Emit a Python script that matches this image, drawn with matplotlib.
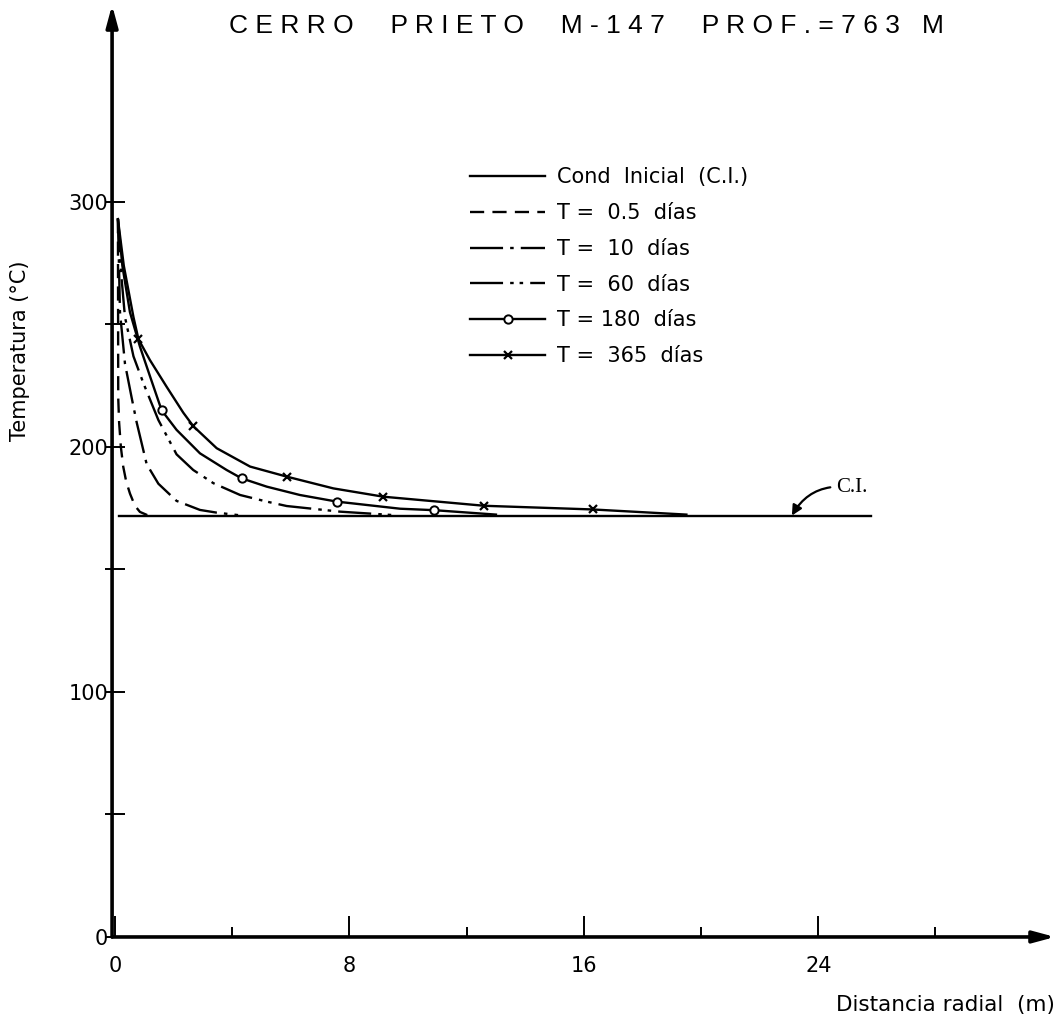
import matplotlib
matplotlib.use("Agg")
import matplotlib.pyplot as plt
from matplotlib.lines import Line2D

# radial distance (m) and temperature (C)
r_ci = [0.15, 25.8]
t_ci = [172, 172]

r_05 = [0.1, 0.105, 0.11, 0.14, 0.2, 0.28, 0.38, 0.51, 0.68, 0.85, 1.1]
t_05 = [293, 255, 220, 210, 200, 192, 186, 181, 176, 173.5, 172.2]

r_10 = [0.1, 0.17, 0.34, 0.57, 0.74, 1.08, 1.48, 2.1, 2.9, 3.47, 4.2]
t_10 = [293, 255, 234, 220, 210, 193, 185, 178, 174.3, 173.2, 172.2]

r_60 = [0.1, 0.2, 0.34, 0.63, 0.97, 1.48, 2.1, 2.67, 3.36, 4.27, 5.18, 5.86, 7.68, 9.5]
t_60 = [293, 272, 253, 237, 226, 211, 197, 190.6, 185.2, 180.4, 177.7, 175.9, 173.6, 172.2]

r_180 = [0.1, 0.25, 0.51, 0.85, 1.19, 1.59, 2.1, 2.9, 3.81, 4.32, 5.18, 6.31, 7.57, 9.73, 10.9, 13.0]
t_180 = [293, 274, 255, 241, 229, 215, 207, 197.4, 190.6, 187.2, 183.8, 180.4, 177.7, 174.8, 174.2, 172.4]
mk_180 = [5, 9, 12, 14]

r_365 = [0.1, 0.3, 0.63, 0.8, 1.19, 1.76, 2.33, 2.67, 3.47, 4.61, 5.86, 7.45, 9.16, 12.6, 16.3, 19.5]
t_365 = [293, 274, 253, 244, 235.5, 224.6, 214, 208.5, 199.5, 192, 187.9, 183.1, 179.7, 176, 174.5, 172.4]
mk_365 = [3, 7, 10, 12, 13, 14]

labels = ["Cond  Inicial  (C.I.)", "T =  0.5  días", "T =  10  días",
          "T =  60  días", "T = 180  días", "T =  365  días"]

plt.rcParams['font.family'] = ['DejaVu Sans']

fig = plt.figure(figsize=(10.6, 10.21), dpi=100)
ax = fig.add_axes([0.1085, 0.0823, 0.8868, 0.9128])
ax.set_xlim(0, 32.08)
ax.set_ylim(0, 380.4)

lw = 1.7
ax.plot(r_ci, t_ci, color='black', lw=lw)
ax.plot(r_05, t_05, color='black', lw=lw, dashes=(6, 3.5))
ax.plot(r_10, t_10, color='black', lw=lw, dashes=(14, 3, 1.5, 3))
ax.plot(r_60, t_60, color='black', lw=lw, dashes=(14, 3, 1.5, 2.5, 1.5, 3))
ax.plot(r_180, t_180, color='black', lw=lw, marker='o', ms=6,
        mfc='white', mec='black', mew=1.4, markevery=mk_180)
ax.plot(r_365, t_365, color='black', lw=lw, marker='x', ms=6,
        mec='black', mew=1.6, markevery=mk_365)

for s in ax.spines.values():
    s.set_visible(False)

arrow = dict(arrowstyle='-|>,head_length=1.3,head_width=0.35', lw=2.6, color='black',
             shrinkA=0, shrinkB=0)
ax.annotate('', xy=(32.08, 0), xytext=(-0.1, 0), arrowprops=arrow,
            annotation_clip=False)
ax.annotate('', xy=(-0.1, 380.4), xytext=(-0.1, 0), arrowprops=arrow,
            annotation_clip=False)

ax.set_xticks([0, 8, 16, 24])
ax.set_xticks([4, 12, 20, 28], minor=True)
ax.set_yticks([0, 100, 200, 300])
ax.set_yticks([50, 150, 250], minor=True)
ax.tick_params(axis='x', which='major', direction='in', length=15, width=1.4,
               labelsize=15, pad=14)
ax.tick_params(axis='x', which='minor', direction='in', length=7.5, width=1.4)
ax.tick_params(axis='y', which='both', direction='inout', length=14, width=1.4,
               labelsize=15, pad=-2)

ax.set_ylabel("Temperatura (°C)", fontsize=15)
ax.yaxis.set_label_coords(-0.09, 0.629)
ax.text(1.0, -0.073, "Distancia radial  (m)", transform=ax.transAxes,
        ha='right', va='center', fontsize=15.5)

fig.text(0.553, 0.975,
         "C E R R O     P R I E T O     M - 1 4 7     P R O F . = 7 6 3   M",
         ha='center', va='center', fontsize=19,
         family=['Liberation Sans Narrow', 'Liberation Sans'])

ax.annotate("C.I.", xy=(23.1, 172), xytext=(24.6, 183.3), fontsize=15,
            va='center', ha='left', family='Liberation Serif',
            arrowprops=dict(arrowstyle='-|>', color='black', lw=1.6,
                            connectionstyle='arc3,rad=0.35',
                            shrinkA=2, shrinkB=0))

handles = [
    Line2D([], [], color='black', lw=lw),
    Line2D([], [], color='black', lw=lw, dashes=(6, 3.5)),
    Line2D([], [], color='black', lw=lw, dashes=(14, 3, 1.5, 3)),
    Line2D([], [], color='black', lw=lw, dashes=(14, 3, 1.5, 2.5, 1.5, 3)),
    Line2D([], [], color='black', lw=lw, marker='o', ms=6, mfc='white', mec='black', mew=1.4),
    Line2D([], [], color='black', lw=lw, marker='x', ms=6, mec='black', mew=1.6),
]
ax.legend(handles, labels, loc='upper left', bbox_to_anchor=(0.378, 0.826),
          frameon=False, fontsize=15, handlelength=3.6, handletextpad=0.55,
          labelspacing=0.76, numpoints=1, borderpad=0, borderaxespad=0)

fig.savefig("out.png", dpi=100)
